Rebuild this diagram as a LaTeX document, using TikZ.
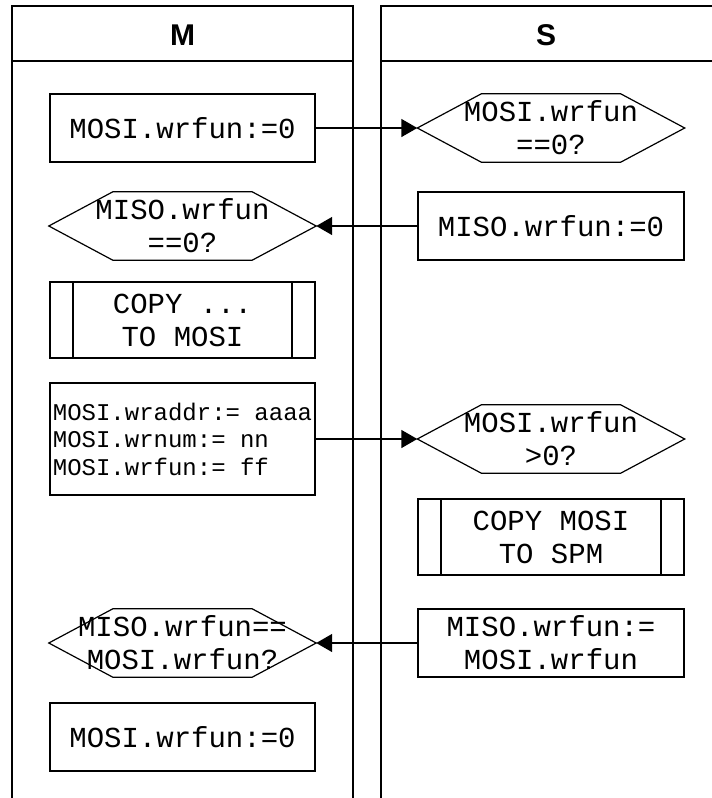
\documentclass[tikz,border=0pt]{standalone}
\usepackage{fontspec}
\setmainfont{Liberation Sans}
\setsansfont{Liberation Sans}
\setmonofont{Liberation Mono}
\usetikzlibrary{positioning, calc, arrows.meta}

\tikzset{
    lane/.style={line width=1.5pt},
    lanetitle/.style={font=\sffamily\bfseries\fontsize{30}{33}\selectfont},
    action/.style={draw, line width=1.2pt, minimum width=265pt, minimum height=68pt,
        inner sep=2pt, align=center, font=\ttfamily\fontsize{29}{33}\selectfont},
    decision/.style={minimum width=267pt, minimum height=68pt, inner sep=0pt,
        align=center, font=\ttfamily\fontsize{29}{33}\selectfont},
    subproc/.style={action, minimum height=76pt,
        path picture={
            \draw[line width=1.2pt] ([xshift=23pt]path picture bounding box.north west)
                -- ([xshift=23pt]path picture bounding box.south west);
            \draw[line width=1.2pt] ([xshift=-23pt]path picture bounding box.north east)
                -- ([xshift=-23pt]path picture bounding box.south east);}},
    flow/.style={line width=1.5pt, -{Triangle[length=16pt, width=18pt]}}
}
% hexagon outline round a decision node
\newcommand{\hexa}[1]{\draw[line width=1.2pt] (#1.west) -- ([xshift=64pt]#1.north west)
    -- ([xshift=-64pt]#1.north east) -- (#1.east) -- ([xshift=-64pt]#1.south east)
    -- ([xshift=64pt]#1.south west) -- cycle;}

\begin{document}
\begin{tikzpicture}[x=1pt, y=-1pt]
    \useasboundingbox (0,0) rectangle (712,798);
    % lanes
    \draw[lane] (12,798) -- (12,6) -- (353,6) -- (353,798);
    \draw[lane] (12,61) -- (353,61);
    \draw[lane] (381,798) -- (381,6) -- (712,6);
    \draw[lane] (381,61) -- (712,61);
    \node[lanetitle] (mtitle) at (182.5,35) {M};
    \node[lanetitle] (stitle) at (546,35) {S};

    % M side
    \node[action] (ma1) at (182.5,128) {MOSI.wrfun:=0};
    \node[decision] (mq1) at (182.5,226) {MISO.wrfun\\==0?};
    \hexa{mq1}
    \node[subproc] (mc1) at (182.5,320) {COPY ...\\TO MOSI};
    \node[action, minimum height=112pt, align=left,
        font=\ttfamily\fontsize{24}{27.5}\selectfont] (ma2) at (182.5,439)
        {MOSI.wraddr:= aaaa\\MOSI.wrnum:= nn\\MOSI.wrfun:= ff};
    \node[decision] (mq2) at (182.5,643) {MISO.wrfun==\\MOSI.wrfun?};
    \hexa{mq2}
    \node[action] (ma3) at (182.5,737) {MOSI.wrfun:=0};

    % S side
    \node[decision] (sq1) at (551,128) {MOSI.wrfun\\==0?};
    \hexa{sq1}
    \node[action, minimum width=266pt] (sa1) at (551,226) {MISO.wrfun:=0};
    \node[decision] (sq2) at (551,439) {MOSI.wrfun\\>0?};
    \hexa{sq2}
    \node[subproc, minimum width=266pt] (sc1) at (551,537) {COPY MOSI\\TO SPM};
    \node[action, minimum width=266pt] (sa2) at (551,643) {MISO.wrfun:=\\MOSI.wrfun};

    % messages
    \draw[flow] (ma1.east) -- (sq1.west);
    \draw[flow] (sa1.west) -- (mq1.east);
    \draw[flow] (ma2.east) -- (sq2.west);
    \draw[flow] (sa2.west) -- (mq2.east);
\end{tikzpicture}
\end{document}
